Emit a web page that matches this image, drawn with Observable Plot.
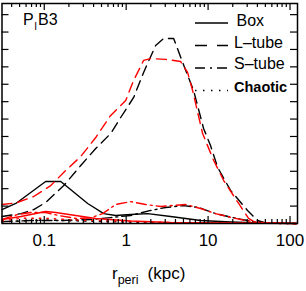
<!DOCTYPE html>
<html>
<head>
<meta charset="utf-8">
<script src="https://cdn.jsdelivr.net/npm/d3@7"></script>
<script src="https://cdn.jsdelivr.net/npm/@observablehq/plot@0.6"></script>
<style>
  html, body { margin: 0; padding: 0; background: #fff; }
  svg { display: block; }
</style>
</head>
<body>
<div id="chart"></div>
<script>
// ---- data (r_peri in kpc, y = distribution value) ----
const boxBlackR   = [0.0305, 0.045, 0.104, 0.159, 0.339, 0.532, 0.745, 1.135, 1.83, 3.49, 8.11, 18.8, 43.6, 120];
const boxBlackN   = [0.80, 1.15, 2.41, 2.41, 1.15, 0.57, 0.46, 0.52, 0.57, 0.40, 0.17, 0.09, 0.03, 0];
const boxRedR     = [0.0305, 0.052, 0.104, 0.138, 0.242, 0.425, 1.135, 3.49, 120];
const boxRedN     = [0.23, 0.40, 0.69, 0.63, 0.46, 0.29, 0.14, 0.06, 0];

const ltubeBlackR = [0.0305, 0.052, 0.0744, 0.104, 0.173, 0.279, 0.425, 0.647, 0.857, 1.234, 1.633, 2.29, 2.87, 3.80, 4.89, 6.65, 8.81, 10.7, 13.1, 18.8, 30.3, 40.2, 50.2, 120];
const ltubeBlackN = [0.40, 0.57, 0.80, 1.21, 2.18, 3.33, 4.31, 5.17, 6.09, 7.24, 8.68, 10.23, 10.63, 10.63, 9.25, 7.64, 5.46, 4.48, 3.22, 1.90, 0.75, 0.17, 0.03, 0];
const ltubeRedR   = [0.0305, 0.045, 0.0744, 0.120, 0.183, 0.279, 0.425, 0.647, 0.987, 1.234, 1.633, 1.99, 3.03, 4.62, 5.62, 6.47, 8.57, 11.7, 15.5, 23.6, 31.2, 37.9, 120];
const ltubeRedN   = [1.09, 1.18, 1.55, 2.18, 3.05, 3.85, 4.94, 6.21, 7.07, 8.22, 9.37, 9.48, 9.43, 9.31, 8.68, 7.64, 5.17, 3.62, 2.47, 1.15, 0.29, 0.06, 0];

const stubeBlackR = [0.0305, 0.0684, 0.159, 0.369, 0.647, 1.135, 1.99, 3.03, 5.03, 7.66, 12.3, 19.9, 33.0, 50.2, 120];
const stubeBlackN = [0.11, 0.17, 0.17, 0.23, 0.34, 0.46, 0.75, 0.92, 1.03, 0.92, 0.57, 0.34, 0.14, 0.03, 0];
const stubeRedR   = [0.0305, 0.0475, 0.0684, 0.104, 0.150, 0.242, 0.369, 0.516, 0.745, 1.135, 1.73, 2.64, 5.32, 8.11, 12.3, 19.4, 28.7, 41.3, 120];
const stubeRedN   = [0.23, 0.52, 0.63, 0.63, 0.46, 0.29, 0.32, 0.57, 1.09, 1.26, 1.09, 0.98, 1.09, 0.86, 0.57, 0.34, 0.17, 0.06, 0];

const chaosBlackR = [0.0305, 0.104, 0.242, 0.647, 1.99, 8.11, 120];
const chaosBlackN = [0.10, 0.20, 0.15, 0.10, 0.05, 0.02, 0];
const chaosRedR   = [0.0305, 0.052, 0.104, 0.242, 0.647, 1.99, 8.11, 120];
const chaosRedN   = [0.15, 0.30, 0.30, 0.20, 0.15, 0.08, 0.03, 0];

const xTickLabels = [0.1, 1, 10, 100];
const yTickValues = [1, 2, 3, 4, 5, 6, 7, 8, 9, 10, 11, 12];
const legendLabels = ["Box", "L\u2013tube", "S\u2013tube", "Chaotic"];
const panelLabel = ["P", "I", "B3"];

// ---- styles ----
const dashes = {box: null, ltube: "10,6", stube: "10,4,2,4", chaos: "1.5,6"};
const series = [
  {r: boxBlackR, n: boxBlackN, color: "#000", dash: dashes.box},
  {r: ltubeBlackR, n: ltubeBlackN, color: "#000", dash: dashes.ltube},
  {r: stubeBlackR, n: stubeBlackN, color: "#000", dash: dashes.stube},
  {r: chaosBlackR, n: chaosBlackN, color: "#000", dash: dashes.chaos},
  {r: boxRedR, n: boxRedN, color: "#ff0000", dash: dashes.box},
  {r: ltubeRedR, n: ltubeRedN, color: "#ff0000", dash: dashes.ltube},
  {r: stubeRedR, n: stubeRedN, color: "#ff0000", dash: dashes.stube},
  {r: chaosRedR, n: chaosRedN, color: "#ff0000", dash: dashes.chaos},
];

const W = 306, H = 291;
const mL = 1.5, mR = 9, mT = 3, mB = 68;
const fw = W - mL - mR, fh = H - mT - mB;
const xDomain = [0.0305, 123.4];
const yDomain = [0, 12.64];

const majors = xTickLabels;
const minors = [];
for (const dec of [0.01, 0.1, 1, 10, 100]) for (let k = 2; k <= 9; k++) {
  const v = dec * k;
  if (v > xDomain[0] && v < xDomain[1]) minors.push(v);
}

const lineMarks = series.map(s =>
  Plot.line(s.r.map((r, i) => ({r, n: s.n[i]})), {
    x: "r", y: "n", stroke: s.color, strokeWidth: 1.4,
    strokeDasharray: s.dash, curve: "linear"
  })
);

const svg = Plot.plot({
  width: W, height: H,
  marginLeft: mL, marginRight: mR, marginTop: mT, marginBottom: mB,
  style: {fontFamily: "'Liberation Sans', Arial, sans-serif", background: "#fff", overflow: "visible"},
  x: {type: "log", domain: xDomain, axis: null},
  y: {domain: yDomain, axis: null},
  marks: [
    ...lineMarks,
    Plot.frame({stroke: "#000", strokeWidth: 1.5}),
    Plot.tickX(majors, {x: d => d, insetTop: fh - 7, stroke: "#000", strokeWidth: 1.2}),
    Plot.tickX(minors, {x: d => d, insetTop: fh - 4, stroke: "#000", strokeWidth: 1.2}),
    Plot.tickX(majors, {x: d => d, insetBottom: fh - 7, stroke: "#000", strokeWidth: 1.2}),
    Plot.tickX(minors, {x: d => d, insetBottom: fh - 4, stroke: "#000", strokeWidth: 1.2}),
    Plot.tickY(yTickValues, {y: d => d, insetRight: fw - 7, stroke: "#000", strokeWidth: 1.2}),
    Plot.tickY(yTickValues, {y: d => d, insetLeft: fw - 7, stroke: "#000", strokeWidth: 1.2}),
    Plot.axisX(xTickLabels, {tickSize: 0, tickPadding: 10, fontSize: 17, label: null,
      tickFormat: d => String(d), fill: "#000"})
  ]
});
document.getElementById("chart").appendChild(svg);

const s = d3.select(svg);
const font = "'Liberation Sans', Arial, sans-serif";

// axis title
const t = s.append("text").attr("x", 112).attr("y", 279).attr("font-family", font)
  .attr("text-anchor", "start").attr("font-size", 17).attr("fill", "#000");
t.append("tspan").text("r");
t.append("tspan").attr("font-size", 12.5).attr("dy", 5).text("peri");
t.append("tspan").attr("dy", -5).attr("dx", 9).text("(kpc)");

// panel label
const p = s.append("text").attr("x", 23).attr("y", 25).attr("font-family", font)
  .attr("text-anchor", "start").attr("font-size", 16).attr("fill", "#000");
p.append("tspan").text(panelLabel[0]);
p.append("tspan").attr("font-size", 10).attr("dy", 5).attr("dx", 0.5).text(panelLabel[1]);
p.append("tspan").attr("dy", -5).attr("dx", 1).text(panelLabel[2]);

// legend
const legDash = [null, "12,10", "10,5,2,5", "1.5,6.5"];
const legLineY = [23, 45.5, 68, 90.5];
const legTextY = [25.5, 47.5, 69, 91.5];
legendLabels.forEach((lab, i) => {
  s.append("line").attr("x1", 195).attr("x2", 228).attr("y1", legLineY[i]).attr("y2", legLineY[i])
    .attr("stroke", "#000").attr("stroke-width", 1.4)
    .attr("stroke-dasharray", legDash[i]);
  s.append("text").attr("x", i === 0 ? 236.5 : 234).attr("y", legTextY[i])
    .attr("text-anchor", "start")
    .attr("font-family", font).attr("font-size", i === 3 ? 14.5 : 16)
    .attr("font-weight", i === 3 ? "bold" : "normal").attr("fill", "#000").text(lab);
});
</script>
</body>
</html>
